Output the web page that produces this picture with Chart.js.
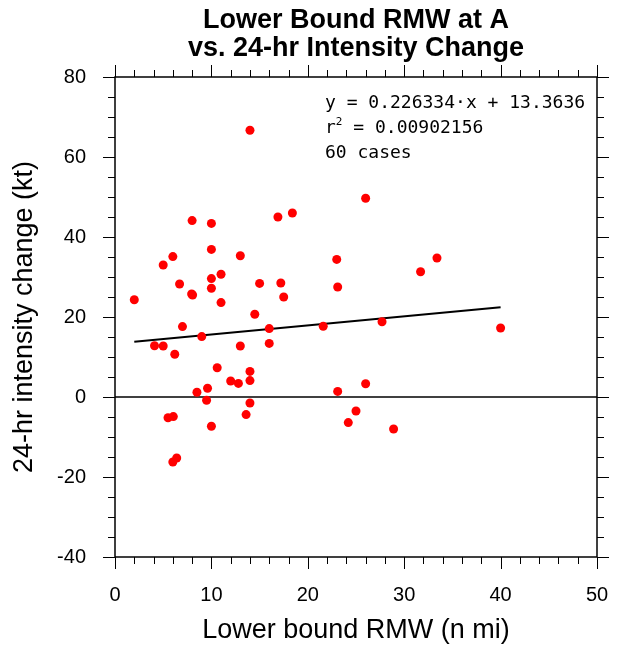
<!DOCTYPE html>
<html>
<head>
<meta charset="utf-8">
<script src="https://cdn.jsdelivr.net/npm/chart.js@4.4.0/dist/chart.umd.min.js"></script>
<style>
html, body { margin: 0; padding: 0; background: #fff; }
#wrap { width: 617px; height: 647px; }
</style>
</head>
<body>
<div id="wrap"><canvas id="chart"></canvas></div>
<script>
// lower bound RMW (n mi) and 24-hr intensity change (kt)
const rmwValues = [
    2.0, 4.1, 5.0, 5.0, 6.0, 6.2, 5.5, 6.05, 6.0, 6.4,
    6.7, 7.0, 8.0, 7.95, 8.05, 8.5, 9.0, 9.6, 9.5, 10.0,
    10.0, 10.0, 10.0, 10.0, 11.0, 11.0, 10.6, 12.0, 12.8, 13.0,
    13.0, 14.0, 14.0, 14.0, 14.0, 13.6, 14.5, 15.0, 16.0, 16.0,
    16.9, 17.2, 17.5, 18.4, 21.6, 23.0, 23.1, 23.1, 24.2, 25.0,
    26.0, 26.0, 27.7, 28.9, 31.7, 33.4, 40.0
];
const intensityChange = [
    24.3, 12.8, 12.75, 33, 35.1, 10.7, -5.2, -4.9, -16.25, -15.25,
    28.25, 17.6, 44.1, 25.75, 25.5, 1.2, 15.1, 2.2, -0.8, 43.4,
    36.9, 29.6, 27.2, -7.3, 30.7, 23.6, 7.3, 4, 3.4, 35.3,
    12.75, 66.7, 6.4, 4.1, -1.5, -4.4, 20.7, 28.4, 17.1, 13.4,
    45, 28.5, 25, 46, 17.7, 34.4, 27.5, 1.4, -6.4, -3.5,
    49.7, 3.3, 18.8, -8, 31.3, 34.75, 17.25
];
const xTicks = [0, 10, 20, 30, 40, 50];
const yTicks = [-40, -20, 0, 20, 40, 60, 80];
const titleLines = ['Lower Bound RMW at A', 'vs. 24-hr Intensity Change'];
const fitSlope = 0.226334;
const fitIntercept = 13.3636;
const fitR2 = '0.00902156';
const nCases = 60;

const points = rmwValues.map((x, i) => ({ x: x, y: intensityChange[i] }));
const xMin = Math.min(...rmwValues);
const xMax = Math.max(...rmwValues);
const fitLine = [
    { x: xMin, y: fitSlope * xMin + fitIntercept },
    { x: xMax, y: fitSlope * xMax + fitIntercept }
];

const sans = '"Liberation Sans", Arial, Helvetica, sans-serif';

// ticks (outward, all four sides), frame, title and fit text
const decorations = {
    id: 'decorations',
    afterDraw(chart) {
        const { ctx, chartArea: a, scales: { x, y } } = chart;
        ctx.save();
        ctx.strokeStyle = '#000';
        ctx.lineWidth = 1;
        ctx.beginPath();
        for (let v = 0; v <= 50; v += 2) {
            const px = Math.round(x.getPixelForValue(v)) + 0.5;
            const len = v % 10 === 0 ? 12 : 7;
            ctx.moveTo(px, a.bottom); ctx.lineTo(px, a.bottom + len);
            ctx.moveTo(px, a.top); ctx.lineTo(px, a.top - len);
        }
        for (let v = -40; v <= 80; v += 5) {
            const py = Math.round(y.getPixelForValue(v)) + 0.5;
            const len = v % 20 === 0 ? 12 : 7;
            ctx.moveTo(a.left, py); ctx.lineTo(a.left - len, py);
            ctx.moveTo(a.right, py); ctx.lineTo(a.right + len, py);
        }
        ctx.stroke();

        ctx.lineWidth = 1.5;
        ctx.strokeRect(a.left, a.top, a.right - a.left, a.bottom - a.top);

        // title
        const cx = (a.left + a.right) / 2;
        ctx.fillStyle = '#000';
        ctx.textAlign = 'center';
        ctx.textBaseline = 'alphabetic';
        ctx.font = 'bold 27px ' + sans;
        ctx.fillText(titleLines[0], cx, 28);
        ctx.fillText(titleLines[1], cx, 56);

        // regression text
        const mono = '"DejaVu Sans Mono", monospace';
        const tx = 325;
        ctx.textAlign = 'left';
        ctx.font = '18px ' + mono;
        ctx.fillText('y = ' + fitSlope + '\u00b7x + ' + fitIntercept, tx, 108);
        ctx.fillText('r', tx, 133);
        const rw = ctx.measureText('r').width;
        ctx.font = '11px ' + mono;
        ctx.fillText('2', tx + rw, 125);
        const sw = ctx.measureText('2').width;
        ctx.font = '18px ' + mono;
        ctx.fillText(' = ' + fitR2, tx + rw + sw, 133);
        ctx.fillText(nCases + ' cases', tx, 158);
        ctx.restore();
    }
};

new Chart(document.getElementById('chart'), {
    type: 'scatter',
    data: {
        datasets: [
            {
                label: 'cases',
                data: points,
                backgroundColor: '#ff0000',
                borderWidth: 0,
                pointRadius: 4.5,
                order: 0
            },
            {
                type: 'line',
                label: 'fit',
                data: fitLine,
                borderColor: '#000',
                borderWidth: 2,
                pointRadius: 0,
                order: 1
            },
            {
                type: 'line',
                label: 'zero',
                data: [{ x: 0, y: 0 }, { x: 50, y: 0 }],
                borderColor: '#000',
                borderWidth: 1.3,
                pointRadius: 0,
                order: 2
            }
        ]
    },
    options: {
        responsive: true,
        maintainAspectRatio: false,
        animation: false,
        layout: { padding: { top: 77, right: 20, left: 0, bottom: 0 } },
        plugins: {
            legend: { display: false },
            tooltip: { enabled: false }
        },
        scales: {
            x: {
                type: 'linear',
                min: 0,
                max: 50,
                afterBuildTicks: s => { s.ticks = xTicks.map(v => ({ value: v })); },
                afterFit: s => { s.height = 90; s.paddingLeft = 0; s.paddingRight = 0; },
                grid: { display: false },
                border: { display: false },
                ticks: {
                    color: '#000',
                    padding: 18,
                    maxRotation: 0,
                    font: { family: sans, size: 20 }
                },
                title: {
                    display: true,
                    text: 'Lower bound RMW (n mi)',
                    color: '#000',
                    padding: { top: 0, bottom: 0 },
                    font: { family: sans, size: 27 }
                }
            },
            y: {
                type: 'linear',
                min: -40,
                max: 80,
                afterBuildTicks: s => { s.ticks = yTicks.map(v => ({ value: v })); },
                afterFit: s => { s.width = 115; s.paddingTop = 0; s.paddingBottom = 0; },
                grid: { display: false },
                border: { display: false },
                ticks: {
                    color: '#000',
                    padding: 21,
                    font: { family: sans, size: 20 }
                },
                title: {
                    display: true,
                    text: '24-hr intensity change (kt)',
                    color: '#000',
                    padding: { top: 8, bottom: 0 },
                    font: { family: sans, size: 27 }
                }
            }
        }
    },
    plugins: [decorations]
});
</script>
</body>
</html>
